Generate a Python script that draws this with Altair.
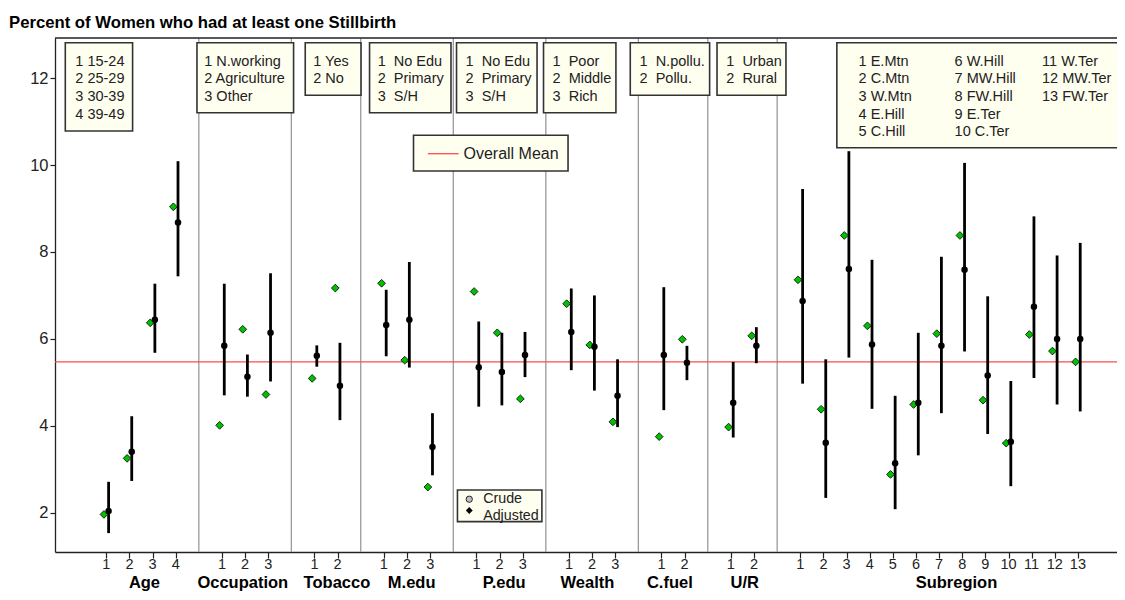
import altair as alt
import pandas as pd

FONT = "Liberation Sans"

# ---------------- data ----------------
groups = ["Age", "Occupation", "Tobacco", "M.edu", "P.edu", "Wealth", "C.fuel", "U/R", "Subregion"]
group_sizes = [4, 3, 2, 3, 3, 3, 2, 2, 13]

crude = [1.96, 3.25, 6.37, 9.04,
         4.01, 6.22, 4.72,
         5.09, 7.17,
         7.28, 5.51, 2.59,
         7.09, 6.14, 4.62,
         6.81, 5.86, 4.09,
         3.75, 5.99,
         3.97, 6.07,
         7.36, 4.38, 8.38, 6.30, 2.88, 4.49, 6.12, 8.38, 4.59, 3.60, 6.10, 5.72, 5.47]
adjusted = [2.04, 3.40, 6.44, 8.68,
            5.84, 5.13, 6.14,
            5.61, 4.92,
            6.32, 6.44, 3.51,
            5.35, 5.24, 5.63,
            6.16, 5.82, 4.69,
            5.63, 5.45,
            4.53, 5.84,
            6.87, 3.61, 7.61, 5.87, 3.14, 4.53, 5.84, 7.59, 5.16, 3.63, 6.74, 6.00, 6.00]
lower = [1.53, 2.73, 5.68, 7.44,
         4.70, 4.67, 5.02,
         5.36, 4.13,
         5.60, 5.34, 2.86,
         4.44, 4.47, 5.12,
         5.28, 4.81, 3.97,
         4.36, 5.05,
         3.73, 5.44,
         4.97, 2.34, 5.57, 4.39, 2.08, 3.32, 4.29, 5.71, 3.81, 2.61, 5.10, 4.49, 4.33]
upper = [2.71, 4.22, 7.27, 10.09,
         7.27, 5.64, 7.51,
         5.85, 5.91,
         7.13, 7.77, 4.29,
         6.40, 6.14, 6.16,
         7.16, 7.00, 5.53,
         7.19, 5.84,
         5.47, 6.27,
         9.45, 5.53, 10.32, 7.82, 4.69, 6.14, 7.89, 10.05, 6.98, 5.03, 8.82, 7.92, 8.21]
overall_mean = 5.47

NB = "\u00a0"
leg_age = ["1 15-24", "2 25-29", "3 30-39", "4 39-49"]
leg_occ = ["1 N.working", "2 Agriculture", "3 Other"]
leg_tob = ["1 Yes", "2 No"]
leg_medu = ["1" + NB + NB + "No Edu", "2" + NB + NB + "Primary", "3" + NB + NB + "S/H"]
leg_pedu = ["1" + NB + NB + "No Edu", "2" + NB + NB + "Primary", "3" + NB + NB + "S/H"]
leg_wealth = ["1" + NB + NB + "Poor", "2" + NB + NB + "Middle", "3" + NB + NB + "Rich"]
leg_cfuel = ["1" + NB + NB + "N.pollu.", "2" + NB + NB + "Pollu."]
leg_ur = ["1" + NB + NB + "Urban", "2" + NB + NB + "Rural"]
leg_sub = ["1 E.Mtn", "2 C.Mtn", "3 W.Mtn", "4 E.Hill", "5 C.Hill",
           "6 W.Hill", "7 MW.Hill", "8 FW.Hill", "9 E.Ter", "10 C.Ter",
           "11 W.Ter", "12 MW.Ter", "13 FW.Ter"]

# ---------------- layout (positions in axis units) ----------------
W, H = 1062, 514
X_DOM = [-1.217, 44.69]
Y_DOM = [1.095, 12.925]
group_label_x = [2.65, 6.9, 10.97, 14.2, 18.2, 21.8, 25.36, 28.6, 37.75]
row_top, row_step = 12.38, 0.407
box_top = 12.817
# (x_left, x_right, y_bottom, text_x)
box_geom = [(-0.772, 2.137, 10.785, -0.34), (4.92, 9.096, 11.206, 5.236),
            (9.60, 12.01, 11.606, 9.947), (12.38, 15.90, 11.206, 12.73),
            (16.14, 19.62, 11.206, 16.53), (19.90, 23.03, 11.206, 20.29),
            (23.65, 27.08, 11.606, 24.05), (27.40, 30.38, 11.606, 27.80)]
sub_box = (32.58, 45.0, 10.40)
sub_cols = [33.52, 37.67, 41.45]

# ---------------- build tables ----------------
pos, lvl, grp = [], [], []
starts = []
p = 1
for g, n in zip(groups, group_sizes):
    starts.append(p)
    for i in range(n):
        pos.append(p + i)
        lvl.append(str(i + 1))
        grp.append(g)
    p += n + 1
separators = [s - 1 for s in starts[1:]]

df = pd.DataFrame({"pos": pos, "level": lvl, "group": grp, "crude": crude,
                   "adjusted": adjusted, "lower": lower, "upper": upper})
df["xc"] = df["pos"] - 0.1
df["xa"] = df["pos"] + 0.1

xs = alt.Scale(domain=X_DOM, nice=False, zero=False)
ys = alt.Scale(domain=Y_DOM, nice=False, zero=False)

AX_X = alt.Axis(values=pos, labels=False, ticks=True, tickSize=6, tickColor="#222", tickWidth=1.2,
                domainColor="#222", domainWidth=1.3, grid=False, title=None)
AX_Y = alt.Axis(values=[2, 4, 6, 8, 10, 12], tickSize=5, tickColor="#222", tickWidth=1.2,
                domainColor="#222", domainWidth=1.3, grid=False, labelFontSize=16.5,
                labelFont=FONT, labelColor="#222", labelPadding=2, title=None)


def X(f):
    return alt.X(f, type="quantitative", scale=xs, axis=AX_X, title=None)


def Y(f):
    return alt.Y(f, type="quantitative", scale=ys, axis=AX_Y, title=None)


# separators
sep_df = pd.DataFrame({"x": separators})
seps = alt.Chart(sep_df).mark_rule(color="#9a9a9a", strokeWidth=1.3).encode(x=X("x"))

# mean line
mean_df = pd.DataFrame({"y": [overall_mean]})
mean_rule = alt.Chart(mean_df).mark_rule(color="#ff4a4a", strokeWidth=1.3).encode(y=Y("y"))

# CI bars
ci = alt.Chart(df).mark_rule(color="black", strokeWidth=2.8).encode(
    x=X("xa"), y=Y("lower"), y2="upper:Q")
crude_pts = alt.Chart(df).mark_point(shape="diamond", filled=True, fill="#00c000", stroke="black",
                                     strokeWidth=0.8, size=60, opacity=1).encode(
    x=X("xc"), y=Y("crude"))
adj_pts = alt.Chart(df).mark_circle(color="black", size=42, opacity=1).encode(
    x=X("xa"), y=Y("adjusted"))

# legend boxes for groups
legend_lists = [leg_age, leg_occ, leg_tob, leg_medu, leg_pedu, leg_wealth, leg_cfuel, leg_ur]
box_rows, txt_rows = [], []
for (xl, xr, yb, tx), items in zip(box_geom, legend_lists):
    box_rows.append({"x": xl, "x2": xr, "y": box_top, "y2": yb})
    for i, t in enumerate(items):
        txt_rows.append({"x": tx, "y": row_top - i * row_step, "text": t})
box_rows.append({"x": sub_box[0], "x2": sub_box[1], "y": box_top, "y2": sub_box[2]})
for i, t in enumerate(leg_sub):
    txt_rows.append({"x": sub_cols[i // 5], "y": row_top - (i % 5) * row_step, "text": t})

# overall mean legend and crude/adjusted legend
box_rows.append({"x": 14.28, "x2": 20.96, "y": 10.686, "y2": 9.864})
box_rows.append({"x": 16.18, "x2": 19.83, "y": 2.522, "y2": 1.793})
box_df = pd.DataFrame(box_rows)
txt_df = pd.DataFrame(txt_rows)

boxes = alt.Chart(box_df).mark_rect(fill="#fffff0", stroke="#333333", strokeWidth=1.6).encode(
    x=X("x"), x2="x2", y=Y("y"), y2="y2")
box_text = alt.Chart(txt_df).mark_text(align="left", baseline="middle", font=FONT, fontSize=14.5,
                                       color="#222").encode(x=X("x"), y=Y("y"), text="text:N")

mean_key_df = pd.DataFrame({"x": [14.90], "x2": [16.23], "y": [10.262]})
mean_key = alt.Chart(mean_key_df).mark_rule(color="#ff4a4a", strokeWidth=1.3).encode(
    x=X("x"), x2="x2", y=Y("y"))
mean_key_txt = alt.Chart(pd.DataFrame({"x": [16.44], "y": [10.262], "text": ["Overall Mean"]})).mark_text(
    align="left", baseline="middle", font=FONT, fontSize=16, color="#222").encode(
    x=X("x"), y=Y("y"), text="text:N")

key_txt = alt.Chart(pd.DataFrame({"x": [17.29, 17.29], "y": [2.31, 1.93],
                                  "text": ["Crude", "Adjusted"]})).mark_text(
    align="left", baseline="middle", font=FONT, fontSize=14.3, color="#222").encode(
    x=X("x"), y=Y("y"), text="text:N")
key_circle = alt.Chart(pd.DataFrame({"x": [16.69], "y": [2.31]})).mark_point(
    shape="circle", filled=True, fill="#bebebe", stroke="black", strokeWidth=0.8, size=40, opacity=1).encode(
    x=X("x"), y=Y("y"))
key_diamond = alt.Chart(pd.DataFrame({"x": [16.69], "y": [2.05]})).mark_point(
    shape="diamond", filled=True, fill="black", stroke="black", strokeWidth=0.5, size=40, opacity=1).encode(
    x=X("x"), y=Y("y"))

# x tick labels and group labels
tick_lbl = alt.Chart(df).mark_text(baseline="middle", font=FONT, fontSize=14.5, color="#222").encode(
    x=X("pos"), y=alt.value(H + 12.5), text="level:N")
grp_df = pd.DataFrame({"x": group_label_x, "text": groups})
grp_lbl = alt.Chart(grp_df).mark_text(baseline="alphabetic", font=FONT, fontSize=16.5, fontWeight="bold",
                                      color="black").encode(
    x=X("x"), y=alt.value(H + 35.5), text="text:N")

top_border = alt.Chart(mean_df).mark_rule(color="#222", strokeWidth=1.3).encode(
    x=alt.value(0), x2=alt.value(W), y=alt.value(0))

chart = alt.layer(
    seps, mean_rule, top_border, ci, crude_pts, adj_pts,
    boxes, box_text, mean_key, mean_key_txt, key_circle, key_diamond, key_txt,
    tick_lbl, grp_lbl,
).properties(
    width=W, height=H,
    title=alt.Title("Percent of Women who had at least one Stillbirth", anchor="start", frame="group",
                    dx=-46, offset=6, fontSize=16.7, font=FONT, fontWeight="bold", color="black"),
    autosize=alt.AutoSizeParams(type="none"),
    padding={"left": 47, "top": 30, "right": 0, "bottom": 40},
).configure_view(stroke=None)

chart.save("out.html", embed_options={"renderer": "svg", "actions": False})
